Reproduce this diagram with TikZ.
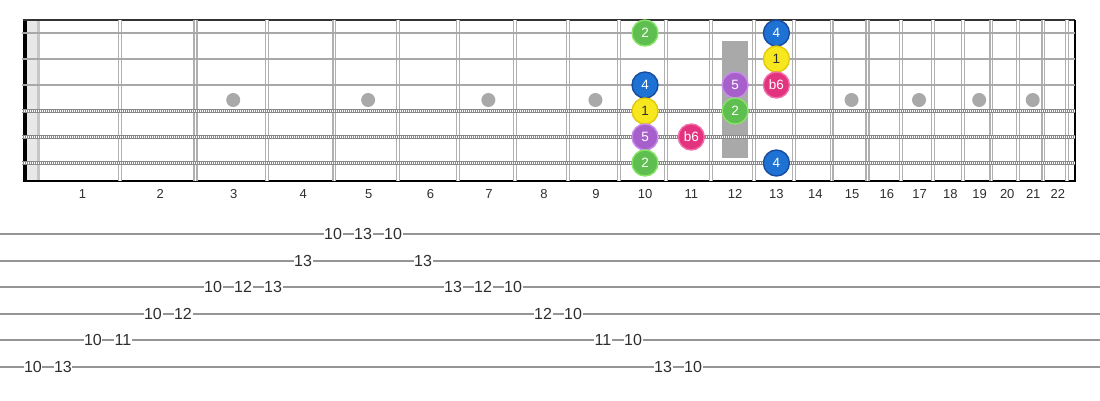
\documentclass[tikz,border=0pt]{standalone}
\usepackage{fontspec}
\setmainfont{Liberation Sans}
\usetikzlibrary{calc}

\definecolor{fretgray}{HTML}{B0B0B0}
\definecolor{strgray}{HTML}{A8A8A8}
\definecolor{windgray}{HTML}{888888}
\definecolor{dotgray}{HTML}{A9A9A9}
\definecolor{nutlight}{HTML}{E8E8E8}
\definecolor{nutmid}{HTML}{C6C6C6}
\definecolor{tabgray}{HTML}{959595}
\definecolor{labelgray}{HTML}{2E2E2E}
\definecolor{ngreenF}{HTML}{5FBE50}
\definecolor{ngreenD}{HTML}{86E466}
\definecolor{nblueF}{HTML}{1E72D4}
\definecolor{nblueD}{HTML}{184C9E}
\definecolor{nyellowF}{HTML}{F6E71E}
\definecolor{nyellowD}{HTML}{E2C80E}
\definecolor{npurpleF}{HTML}{A760CB}
\definecolor{npurpleD}{HTML}{C98CE8}
\definecolor{npinkF}{HTML}{E3327E}
\definecolor{npinkD}{HTML}{F26CA8}

\tikzset{
  fretwire/.style={draw=fretgray, line width=1.3pt, double=white, double distance=1.6pt},
  plainstring/.style={draw=strgray, line width=2.6pt},
  woundstring/.style={draw=windgray, line width=4.6pt},
  woundgap/.style={draw=white, line width=1.6pt, dash pattern=on 1pt off 1pt},
  inlay/.style={circle, fill=dotgray, minimum size=14pt, inner sep=0pt},
  fretnum/.style={text=labelgray, font=\fontsize{13}{13}\selectfont},
  notedot/.style={circle, minimum size=26pt, inner sep=0pt, line width=1.4pt,
    text=white, font=\fontsize{13.5}{13.5}\selectfont},
  grn/.style={notedot, fill=ngreenF, draw=ngreenD},
  blu/.style={notedot, fill=nblueF, draw=nblueD},
  yel/.style={notedot, fill=nyellowF, draw=nyellowD, text=labelgray},
  pur/.style={notedot, fill=npurpleF, draw=npurpleD},
  pnk/.style={notedot, fill=npinkF, draw=npinkD},
  tabline/.style={draw=tabgray, line width=2pt},
  tabnum/.style={fill=white, inner sep=0.6pt, text=labelgray, font=\fontsize{16}{16}\selectfont}
}

\begin{document}
\begin{tikzpicture}[x=1pt, y=-1pt]
\useasboundingbox (0,0) rectangle (1100,400);

% nut and board edges
\fill[nutlight] (27,20) rectangle (37,181);
\fill[nutmid] (37,20) rectangle (40,181);
\fill[black] (23,20) rectangle (27,181);
\draw[line width=2pt, black!80] (23,20) -- (1075,20);
\draw[line width=2pt, black] (23,181) -- (1075,181) -- (1075,20);

% octave marker
\fill[dotgray] (722,41) rectangle (748,158);

% frets, labels and inlays
\foreach \k in {1,...,22} {
  \pgfmathsetmacro\xf{40+1428*(1-pow(2,-\k/12))}
  \pgfmathsetmacro\xm{42.5+1428*(1-(pow(2,-(\k-1)/12)+pow(2,-\k/12))/2)}
  \coordinate (ft\k) at (\xf,20);
  \coordinate (fb\k) at (\xf,181);
  \draw[fretwire] (ft\k) -- (fb\k);
  \node[fretnum] (fn\k) at (\xm,194) {\k};
}
\foreach \k in {3,5,7,9,15,17,19,21} {
  \pgfmathsetmacro\xm{42+1428*(1-(pow(2,-(\k-1)/12)+pow(2,-\k/12))/2)}
  \node[inlay] (dot\k) at (\xm,100) {};
}

% strings
\foreach \s in {1,2,3} {
  \coordinate (sl\s) at (22,{33+26*(\s-1)});
  \coordinate (sr\s) at (1075,{33+26*(\s-1)});
  \draw[plainstring] (sl\s) -- (sr\s);
}
\foreach \s in {4,5,6} {
  \coordinate (sl\s) at (22,{33+26*(\s-1)});
  \coordinate (sr\s) at (1075,{33+26*(\s-1)});
  \draw[woundstring] (sl\s) -- (sr\s);
  \draw[woundgap] (sl\s) -- (sr\s);
}

% scale notes
\foreach \s/\f/\d/\c in {1/10/2/grn, 1/13/4/blu, 2/13/1/yel, 3/10/4/blu, 3/12/5/pur,
    3/13/b6/pnk, 4/10/1/yel, 4/12/2/grn, 5/10/5/pur, 5/11/b6/pnk, 6/10/2/grn, 6/13/4/blu} {
  \pgfmathsetmacro\xm{42.5+1428*(1-(pow(2,-(\f-1)/12)+pow(2,-\f/12))/2)}
  \node[\c] (n-\s-\f) at (\xm,{33+26*(\s-1)}) {\d};
}

% tab
\foreach \s in {1,...,6} {
  \coordinate (tl\s) at (0,{234+26.6*(\s-1)});
  \coordinate (tr\s) at (1100,{234+26.6*(\s-1)});
  \draw[tabline] (tl\s) -- (tr\s);
}
\foreach \i/\s/\f in {0/6/10, 1/6/13, 2/5/10, 3/5/11, 4/4/10, 5/4/12, 6/3/10, 7/3/12,
    8/3/13, 9/2/13, 10/1/10, 11/1/13, 12/1/10, 13/2/13, 14/3/13, 15/3/12, 16/3/10,
    17/4/12, 18/4/10, 19/5/11, 20/5/10, 21/6/13, 22/6/10} {
  \node[tabnum] (t\i) at ({33+30*\i},{234+26.6*(\s-1)}) {\f};
}
\end{tikzpicture}
\end{document}
